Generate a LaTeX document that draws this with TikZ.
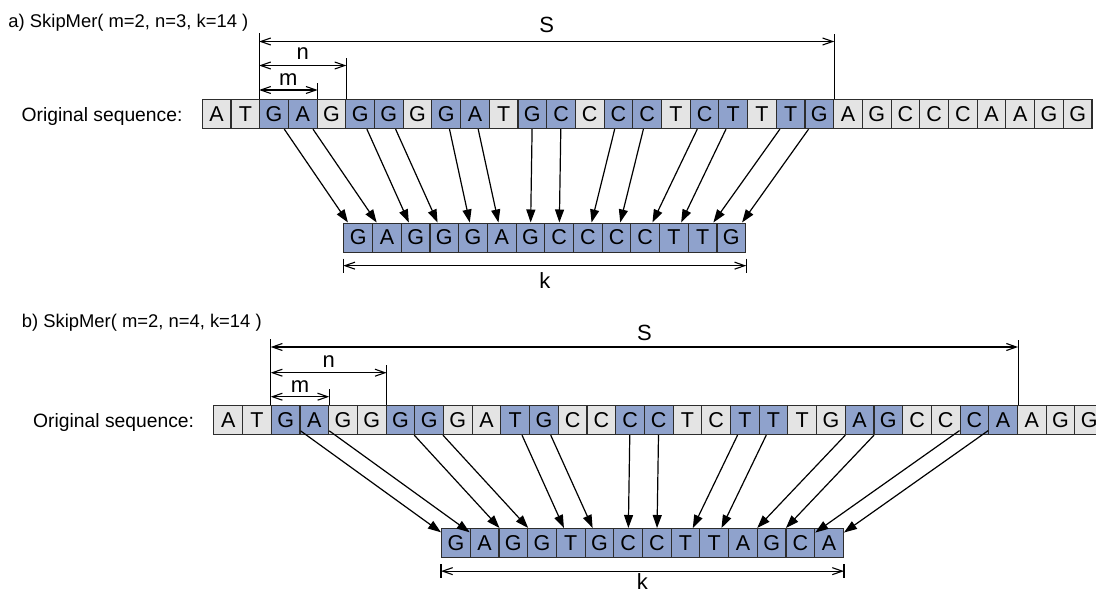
\documentclass[tikz,border=0pt]{standalone}
\usepackage{fontspec}
\setmainfont{Liberation Sans}
\usetikzlibrary{arrows.meta,calc}
\definecolor{pk}{RGB}{143,162,204}
\definecolor{sk}{RGB}{228,228,228}
\definecolor{edge}{RGB}{45,45,45}

\begin{document}
\begin{tikzpicture}[x=1pt,y=-1pt,
  cell/.style={draw=edge, line width=1.15pt, minimum width=28.7pt,
    minimum height=29pt, inner sep=0pt, anchor=north west,
    font=\fontsize{21.5}{21.5}\selectfont},
  link/.style={line width=1.2pt, -{Triangle[length=13pt,width=9pt]}},
  dim/.style={line width=1.1pt},
  dimarr/.style={line width=1.1pt,
    {Straight Barb[length=10pt,width=7pt]}-{Straight Barb[length=10pt,width=7pt]}},
  lbl/.style={inner sep=0pt, font=\fontsize{22}{22}\selectfont},
  title/.style={inner sep=0pt, anchor=base west, font=\fontsize{18.4}{18.4}\selectfont},
  olab/.style={inner sep=0pt, anchor=base east, font=\fontsize{19.3}{19.3}\selectfont}]

\clip (0,0) rectangle (1096,592);
\fill[white] (0,0) rectangle (1096,592);

% ---------------- a) m=2, n=3 ----------------
\node[title] (ta) at (8.3,27.3) {a) SkipMer( m=2, n=3, k=14 )};

\foreach \ch/\col [count=\i] in {A/sk,T/sk,G/pk,A/pk,G/sk,G/pk,G/pk,G/sk,G/pk,A/pk,
    T/sk,G/pk,C/pk,C/sk,C/pk,C/pk,T/sk,C/pk,T/pk,T/sk,T/pk,G/pk,A/sk,G/sk,C/sk,
    C/sk,C/sk,A/sk,A/sk,G/sk,G/sk} {
  \pgfmathsetmacro\xx{201.7+(\i-1)*28.7}
  \node[cell, fill=\col] (a\i) at (\xx,99) {\ch};
}
\foreach \ch [count=\i] in {G,A,G,G,G,A,G,C,C,C,C,T,T,G} {
  \pgfmathsetmacro\xx{343.3+(\i-1)*28.7}
  \node[cell, fill=pk] (ka\i) at (\xx,222.5) {\ch};
}
\node[olab] (oa) at ($(a1.west)+(-19,7)$) {Original sequence:};

\foreach \s [count=\j] in {3,4,6,7,9,10,12,13,15,16,18,19,21,22}
  \draw[link] (a\s) -- (ka\j);

% span markers above the sequence
\draw[dim] (a3.north west) -- ++(0,-66);
\draw[dim] (a22.north east) -- ++(0,-65);
\draw[dim] (a5.north east) -- ++(0,-41);
\draw[dim] (a4.north east) -- ++(0,-16);
\draw[dimarr] ($(a3.north west)+(0,-57.5)$) -- ($(a22.north east)+(0,-57.5)$);
\draw[dimarr] ($(a3.north west)+(0,-33.5)$) -- ($(a5.north east)+(0,-33.5)$);
\draw[dimarr] ($(a3.north west)+(0,-9)$) -- ($(a4.north east)+(0,-9)$);
\node[lbl] (aSl) at ($(a3.north west)!0.5!(a22.north east)+(0,-74)$) {S};
\node[lbl] (anl) at ($(a3.north west)!0.5!(a5.north east)+(0,-45.7)$) {n};
\node[lbl] (aml) at ($(a3.north west)!0.5!(a4.north east)+(0,-19)$) {m};

% k marker below the k-mer
\draw[dim] ($(ka1.south west)+(0,6)$) -- ++(0,14);
\draw[dim] ($(ka14.south east)+(0,6)$) -- ++(0,14);
\draw[dimarr] ($(ka1.south west)+(0,13)$) -- ($(ka14.south east)+(0,13)$);
\node[lbl] (akl) at ($(ka1.south west)!0.5!(ka14.south east)+(0,28.3)$) {k};

% ---------------- b) m=2, n=4 ----------------
\node[title] (tb) at (21.7,327.3) {b) SkipMer( m=2, n=4, k=14 )};

\foreach \ch/\col [count=\i] in {A/sk,T/sk,G/pk,A/pk,G/sk,G/sk,G/pk,G/pk,G/sk,A/sk,
    T/pk,G/pk,C/sk,C/sk,C/pk,C/pk,T/sk,C/sk,T/pk,T/pk,T/sk,G/sk,A/pk,G/pk,C/sk,
    C/sk,C/pk,A/pk,A/sk,G/sk,G/sk} {
  \pgfmathsetmacro\xx{213.3+(\i-1)*28.7}
  \node[cell, fill=\col] (b\i) at (\xx,405) {\ch};
}
\foreach \ch [count=\i] in {G,A,G,G,T,G,C,C,T,T,A,G,C,A} {
  \pgfmathsetmacro\xx{441+(\i-1)*28.7}
  \node[cell, fill=pk] (kb\i) at (\xx,528) {\ch};
}
\node[olab] (ob) at ($(b1.west)+(-19,7)$) {Original sequence:};

\foreach \s [count=\j] in {3,4,7,8,11,12,15,16,19,20,23,24,27,28}
  \draw[link] (b\s) -- (kb\j);

\draw[dim] (b3.north west) -- ++(0,-66);
\draw[dim] (b28.north east) -- ++(0,-65);
\draw[dim] (b6.north east) -- ++(0,-40);
\draw[dim] (b4.north east) -- ++(0,-16);
\draw[dimarr] ($(b3.north west)+(0,-58)$) -- ($(b28.north east)+(0,-58)$);
\draw[dimarr] ($(b3.north west)+(0,-32.3)$) -- ($(b6.north east)+(0,-32.3)$);
\draw[dimarr] ($(b3.north west)+(0,-8.3)$) -- ($(b4.north east)+(0,-8.3)$);
\node[lbl] (bSl) at ($(b3.north west)!0.5!(b28.north east)+(0,-72.5)$) {S};
\node[lbl] (bnl) at ($(b3.north west)!0.5!(b6.north east)+(0,-43.3)$) {n};
\node[lbl] (bml) at ($(b3.north west)!0.5!(b4.north east)+(0,-18.3)$) {m};

\draw[dim] ($(kb1.south west)+(0,6)$) -- ++(0,14);
\draw[dim] ($(kb14.south east)+(0,6)$) -- ++(0,14);
\draw[dimarr] ($(kb1.south west)+(0,13)$) -- ($(kb14.south east)+(0,13)$);
\node[lbl] (bkl) at ($(kb1.south west)!0.5!(kb14.south east)+(0,23.5)$) {k};
\end{tikzpicture}
\end{document}
